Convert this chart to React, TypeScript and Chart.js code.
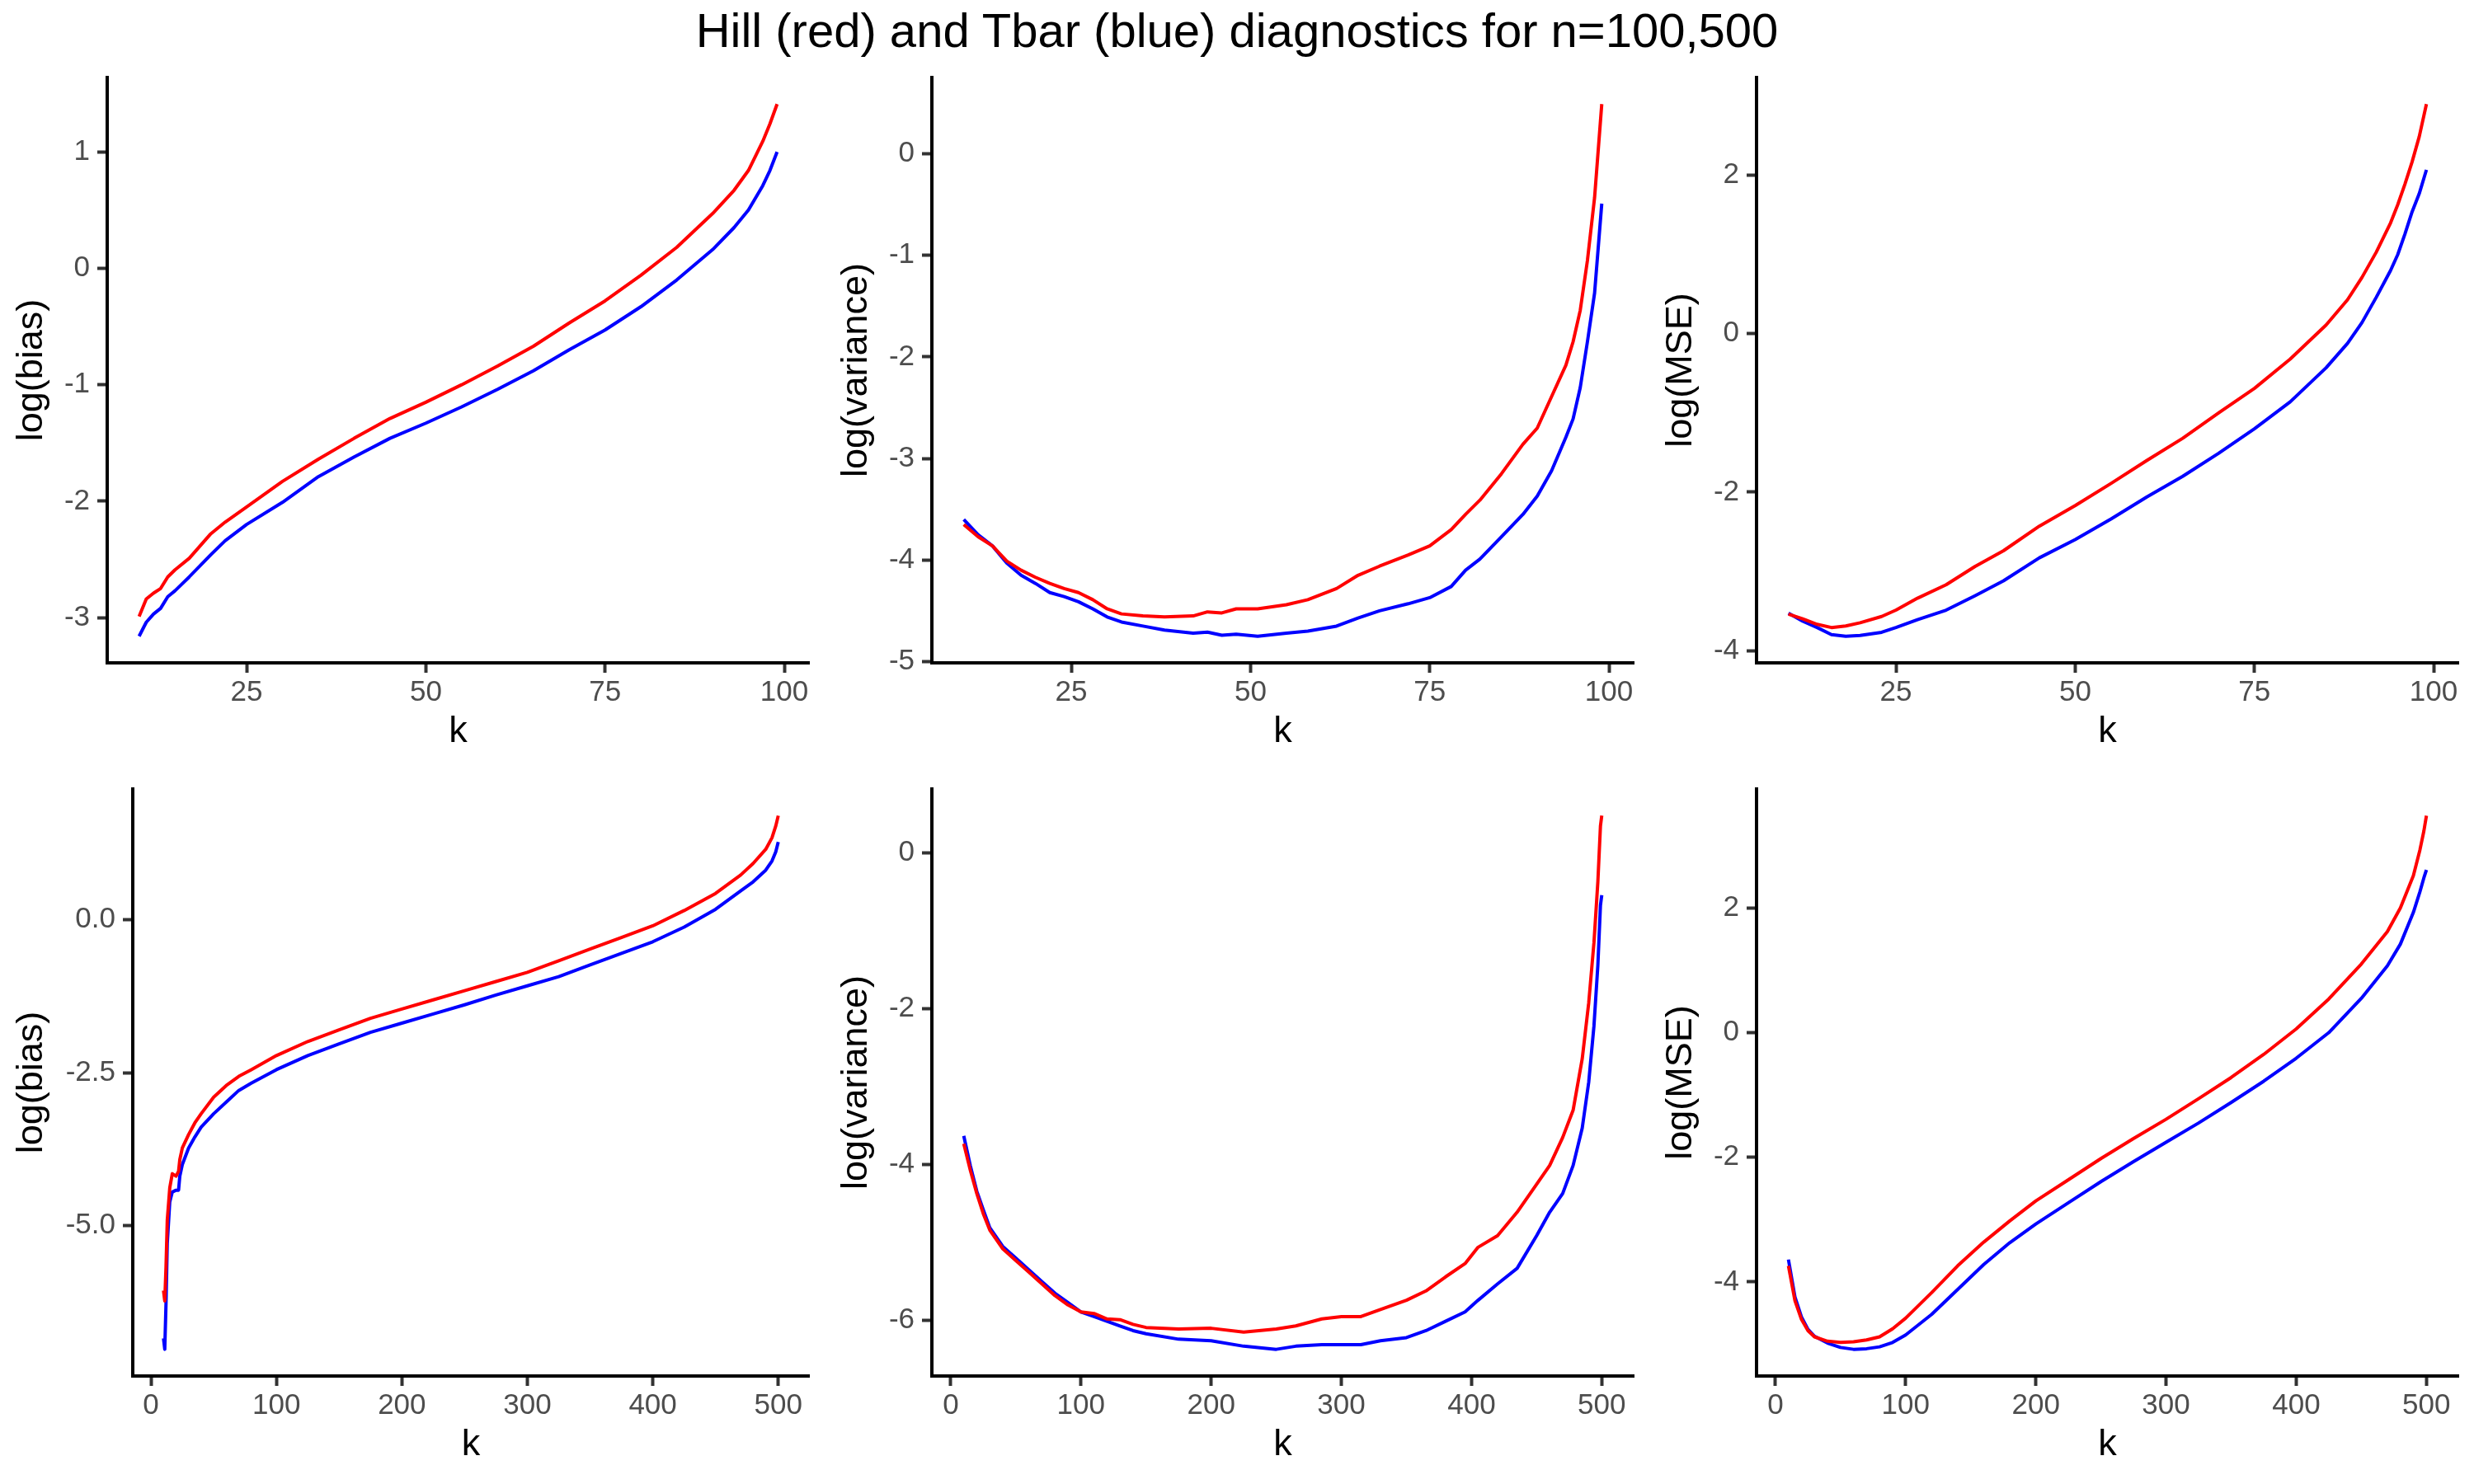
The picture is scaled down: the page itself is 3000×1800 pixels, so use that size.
import React, { useEffect, useRef } from "react";
import { Chart, registerables } from "chart.js";

Chart.register(...registerables);

const TITLE = "Hill (red) and Tbar (blue) diagnostics for n=100,500";
const FONT = "'Liberation Sans', Arial, Helvetica, sans-serif";

// ---------- n = 100 ----------
const kBias100 = [10, 11, 12, 13, 14, 15, 17, 20, 22, 25, 30, 35, 40, 45, 50, 55, 60, 65, 70, 75, 80, 85, 90, 93, 95, 97, 98, 99];
const hillBias100 = [-2.99, -2.84, -2.79, -2.75, -2.65, -2.59, -2.49, -2.28, -2.18, -2.05, -1.83, -1.64, -1.46, -1.29, -1.15, -1.0, -0.84, -0.67, -0.47, -0.28, -0.06, 0.18, 0.47, 0.67, 0.84, 1.09, 1.24, 1.41];
const tbarBias100 = [-3.16, -3.04, -2.97, -2.92, -2.82, -2.77, -2.65, -2.46, -2.34, -2.2, -2.01, -1.79, -1.62, -1.46, -1.33, -1.19, -1.04, -0.88, -0.7, -0.53, -0.33, -0.1, 0.16, 0.35, 0.5, 0.71, 0.84, 1.0];

const kVar100 = [10, 12, 14, 16, 18, 20, 22, 24, 26, 28, 30, 32, 35, 38, 42, 44, 46, 48, 51, 55, 58, 62, 65, 68, 72, 75, 78, 80, 82, 85, 88, 90, 92, 94, 95, 96, 97, 98, 99];
const hillVar100 = [-3.65, -3.77, -3.86, -4.01, -4.1, -4.17, -4.23, -4.28, -4.32, -4.39, -4.48, -4.53, -4.55, -4.56, -4.55, -4.51, -4.52, -4.48, -4.48, -4.44, -4.39, -4.28, -4.15, -4.06, -3.95, -3.86, -3.7, -3.55, -3.41, -3.15, -2.86, -2.7, -2.39, -2.08, -1.85, -1.54, -1.05, -0.43, 0.49];
const tbarVar100 = [-3.6, -3.75, -3.86, -4.03, -4.15, -4.23, -4.32, -4.36, -4.41, -4.48, -4.56, -4.61, -4.65, -4.69, -4.72, -4.71, -4.74, -4.73, -4.75, -4.72, -4.7, -4.65, -4.57, -4.5, -4.43, -4.37, -4.26, -4.1, -3.99, -3.77, -3.55, -3.37, -3.12, -2.79, -2.61, -2.3, -1.85, -1.37, -0.49];

const kMse100 = [10, 12, 14, 16, 18, 20, 23, 25, 28, 32, 36, 40, 45, 50, 55, 60, 65, 70, 75, 80, 85, 88, 90, 92, 94, 95, 96, 97, 98, 99];
const hillMse100 = [-3.54, -3.6, -3.67, -3.71, -3.69, -3.65, -3.57, -3.49, -3.34, -3.17, -2.94, -2.74, -2.43, -2.17, -1.89, -1.6, -1.32, -1.0, -0.69, -0.32, 0.11, 0.43, 0.71, 1.03, 1.4, 1.63, 1.89, 2.17, 2.49, 2.9];
const tbarMse100 = [-3.53, -3.63, -3.71, -3.8, -3.82, -3.81, -3.77, -3.71, -3.61, -3.49, -3.31, -3.12, -2.83, -2.6, -2.34, -2.06, -1.8, -1.51, -1.2, -0.86, -0.43, -0.12, 0.14, 0.46, 0.8, 1.0, 1.26, 1.54, 1.77, 2.07];

// ---------- n = 500 ----------
const kBias500 = [10, 11, 12, 13, 15, 17, 20, 22, 23, 25, 30, 35, 40, 50, 60, 70, 80, 100, 125, 150, 175, 200, 225, 250, 275, 300, 325, 350, 375, 400, 425, 450, 470, 480, 490, 495, 498, 500];
const hillBias500 = [-6.06, -6.23, -5.67, -4.91, -4.38, -4.15, -4.19, -4.11, -3.92, -3.73, -3.51, -3.32, -3.17, -2.9, -2.71, -2.56, -2.45, -2.22, -1.99, -1.8, -1.61, -1.46, -1.31, -1.16, -1.01, -0.86, -0.67, -0.48, -0.29, -0.1, 0.15, 0.43, 0.73, 0.92, 1.15, 1.34, 1.53, 1.7];
const tbarBias500 = [-6.84, -7.02, -6.27, -5.29, -4.61, -4.45, -4.42, -4.42, -4.19, -4.0, -3.73, -3.55, -3.39, -3.17, -2.98, -2.79, -2.67, -2.45, -2.22, -2.03, -1.84, -1.69, -1.54, -1.39, -1.23, -1.08, -0.93, -0.74, -0.55, -0.36, -0.12, 0.17, 0.47, 0.62, 0.81, 0.96, 1.11, 1.27];

const kVar500 = [10, 15, 20, 25, 30, 40, 50, 60, 70, 80, 90, 100, 110, 120, 130, 140, 150, 175, 200, 225, 250, 265, 285, 300, 315, 330, 350, 365, 380, 395, 405, 420, 435, 450, 460, 470, 478, 485, 490, 494, 497, 499, 500];
const hillVar500 = [-3.73, -4.07, -4.37, -4.63, -4.84, -5.08, -5.23, -5.38, -5.53, -5.68, -5.8, -5.89, -5.91, -5.98, -5.99, -6.05, -6.09, -6.11, -6.1, -6.15, -6.11, -6.07, -5.98, -5.95, -5.95, -5.86, -5.74, -5.62, -5.44, -5.27, -5.06, -4.91, -4.61, -4.25, -4.01, -3.65, -3.3, -2.64, -1.92, -1.15, -0.37, 0.35, 0.48];
const tbarVar500 = [-3.63, -4.01, -4.34, -4.58, -4.81, -5.05, -5.2, -5.35, -5.5, -5.65, -5.77, -5.89, -5.95, -6.01, -6.07, -6.13, -6.17, -6.24, -6.26, -6.33, -6.37, -6.33, -6.31, -6.31, -6.31, -6.26, -6.22, -6.13, -6.01, -5.89, -5.74, -5.53, -5.33, -4.91, -4.61, -4.37, -4.01, -3.53, -2.94, -2.22, -1.44, -0.67, -0.54];

const kMse500 = [10, 15, 20, 25, 30, 40, 50, 60, 70, 80, 90, 100, 120, 140, 160, 180, 200, 225, 250, 275, 300, 325, 350, 375, 400, 425, 450, 470, 480, 490, 495, 498, 500];
const hillMse500 = [-3.74, -4.3, -4.6, -4.78, -4.88, -4.95, -4.97, -4.96, -4.93, -4.88, -4.75, -4.58, -4.17, -3.74, -3.36, -3.02, -2.7, -2.36, -2.02, -1.7, -1.39, -1.06, -0.72, -0.35, 0.06, 0.54, 1.1, 1.62, 2.0, 2.52, 2.93, 3.23, 3.48];
const tbarMse500 = [-3.64, -4.24, -4.56, -4.76, -4.87, -4.98, -5.05, -5.08, -5.07, -5.04, -4.97, -4.85, -4.52, -4.12, -3.72, -3.37, -3.07, -2.73, -2.39, -2.07, -1.76, -1.45, -1.12, -0.78, -0.41, 0.0, 0.55, 1.07, 1.42, 1.93, 2.26, 2.48, 2.61];

// ---------- tick labels ----------
const xTicks100 = [25, 50, 75, 100];
const xTicks500 = [0, 100, 200, 300, 400, 500];
const yTicksBias100 = [-3, -2, -1, 0, 1];
const yTicksVar100 = [-5, -4, -3, -2, -1, 0];
const yTicksMse100 = [-4, -2, 0, 2];
const yTicksBias500 = [-5, -2.5, 0];
const yTicksVar500 = [-6, -4, -2, 0];
const yTicksMse500 = [-4, -2, 0, 2];

type PanelCfg = {
  k: number[];
  hill: number[];
  tbar: number[];
  yLabel: string;
  yTicks: number[];
  xTicks: number[];
  decimals: number;
  left: number;
  top: number;
  axisW: number;
  padTop: number;
  xAxisH: number;
  xTitlePad: number;
};

function expandRange(a: number[], b: number[]): [number, number] {
  const all = a.concat(b);
  const lo = Math.min(...all);
  const hi = Math.max(...all);
  const d = (hi - lo) * 0.05;
  return [lo - d, hi + d];
}

const ROW1 = { top: 60, padTop: 34, xAxisH: 136, xTitlePad: 25 };
const ROW2 = { top: 920, padTop: 37, xAxisH: 131, xTitlePad: 20 };

const PANELS: PanelCfg[] = [
  { k: kBias100, hill: hillBias100, tbar: tbarBias100, yLabel: "log(bias)", yTicks: yTicksBias100, xTicks: xTicks100, decimals: 0, left: 0, axisW: 130, ...ROW1 },
  { k: kVar100, hill: hillVar100, tbar: tbarVar100, yLabel: "log(variance)", yTicks: yTicksVar100, xTicks: xTicks100, decimals: 0, left: 1000, axisW: 130, ...ROW1 },
  { k: kMse100, hill: hillMse100, tbar: tbarMse100, yLabel: "log(MSE)", yTicks: yTicksMse100, xTicks: xTicks100, decimals: 0, left: 2000, axisW: 130, ...ROW1 },
  { k: kBias500, hill: hillBias500, tbar: tbarBias500, yLabel: "log(bias)", yTicks: yTicksBias500, xTicks: xTicks500, decimals: 1, left: 0, axisW: 161, ...ROW2 },
  { k: kVar500, hill: hillVar500, tbar: tbarVar500, yLabel: "log(variance)", yTicks: yTicksVar500, xTicks: xTicks500, decimals: 0, left: 1000, axisW: 130, ...ROW2 },
  { k: kMse500, hill: hillMse500, tbar: tbarMse500, yLabel: "log(MSE)", yTicks: yTicksMse500, xTicks: xTicks500, decimals: 0, left: 2000, axisW: 130, ...ROW2 },
];

const CW = 1000;
const CH = 880;

function Panel({ cfg }: { cfg: PanelCfg }) {
  const ref = useRef<HTMLCanvasElement | null>(null);
  useEffect(() => {
    const canvas = ref.current;
    if (!canvas) return;
    const [yMin, yMax] = expandRange(cfg.hill, cfg.tbar);
    const kMin = Math.min(...cfg.k);
    const kMax = Math.max(...cfg.k);
    const kd = (kMax - kMin) * 0.05;
    const tickFont = { size: 35, family: FONT };
    const titleFont = { size: 45, family: FONT };
    const chart = new Chart(canvas, {
      type: "line",
      data: {
        datasets: [
          {
            label: "Hill",
            data: cfg.k.map((k, i) => ({ x: k, y: cfg.hill[i] })),
            borderColor: "#FF0000",
            backgroundColor: "#FF0000",
            borderWidth: 4,
            pointRadius: 0,
            fill: false,
            tension: 0,
            borderJoinStyle: "round",
          },
          {
            label: "Tbar",
            data: cfg.k.map((k, i) => ({ x: k, y: cfg.tbar[i] })),
            borderColor: "#0000FF",
            backgroundColor: "#0000FF",
            borderWidth: 4,
            pointRadius: 0,
            fill: false,
            tension: 0,
            borderJoinStyle: "round",
          },
        ],
      },
      options: {
        responsive: false,
        maintainAspectRatio: false,
        animation: false,
        devicePixelRatio: 1,
        layout: { padding: { left: 0, right: 19, top: cfg.padTop, bottom: 0 } },
        plugins: {
          legend: { display: false },
          tooltip: { enabled: false },
          title: { display: false },
        },
        scales: {
          x: {
            type: "linear",
            min: kMin - kd,
            max: kMax + kd,
            afterFit: (s: any) => {
              s.height = cfg.xAxisH;
            },
            afterBuildTicks: (s: any) => {
              s.ticks = cfg.xTicks.map((v) => ({ value: v }));
            },
            ticks: {
              font: tickFont,
              color: "#4D4D4D",
              padding: 3,
              maxRotation: 0,
              autoSkip: false,
              callback: (v: any) => String(v),
            },
            grid: {
              display: true,
              drawOnChartArea: false,
              drawTicks: true,
              tickLength: 12,
              tickWidth: 4,
              tickColor: "#333333",
            },
            border: { display: true, color: "#000000", width: 4 },
            title: {
              display: true,
              text: "k",
              font: titleFont,
              color: "#000000",
              padding: { top: 0, bottom: cfg.xTitlePad },
            },
          },
          y: {
            type: "linear",
            min: yMin,
            max: yMax,
            afterFit: (s: any) => {
              s.width = cfg.axisW;
            },
            afterBuildTicks: (s: any) => {
              s.ticks = cfg.yTicks.map((v) => ({ value: v }));
            },
            ticks: {
              font: tickFont,
              color: "#4D4D4D",
              padding: 9,
              autoSkip: false,
              callback: (v: any) => Number(v).toFixed(cfg.decimals),
            },
            grid: {
              display: true,
              drawOnChartArea: false,
              drawTicks: true,
              tickLength: 12,
              tickWidth: 4,
              tickColor: "#333333",
            },
            border: { display: true, color: "#000000", width: 4 },
            title: {
              display: true,
              text: cfg.yLabel,
              font: titleFont,
              color: "#000000",
              padding: { top: 12, bottom: 0 },
            },
          },
        },
      } as any,
    });
    return () => chart.destroy();
  }, [cfg]);
  return (
    <canvas
      ref={ref}
      width={CW}
      height={CH}
      style={{ position: "absolute", left: cfg.left, top: cfg.top, width: CW, height: CH }}
    />
  );
}

export default function App() {
  return (
    <div
      style={{
        position: "fixed",
        left: 0,
        top: 0,
        width: 3000,
        height: 1800,
        background: "#FFFFFF",
        overflow: "hidden",
      }}
    >
      <div
        style={{
          position: "absolute",
          left: 0,
          top: 8,
          width: 3000,
          textAlign: "center",
          fontFamily: FONT,
          fontSize: 58,
          lineHeight: "58px",
          color: "#000000",
          whiteSpace: "nowrap",
        }}
      >
        {TITLE}
      </div>
      {PANELS.map((p, i) => (
        <Panel key={i} cfg={p} />
      ))}
    </div>
  );
}
